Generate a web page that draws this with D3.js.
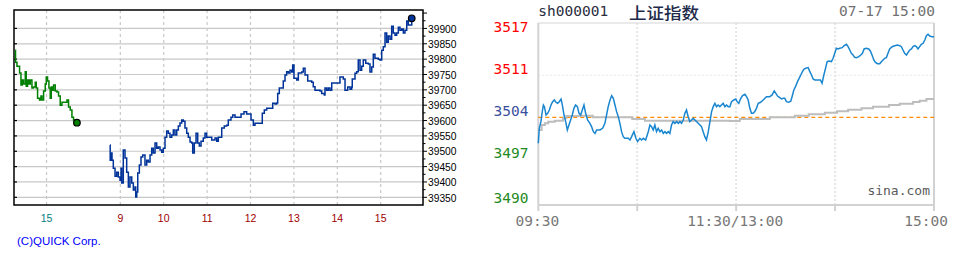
<!DOCTYPE html>
<html><head><meta charset="utf-8">
<script src="https://cdn.jsdelivr.net/npm/d3@7"></script>
<style>body{margin:0;background:#fff}svg{display:block}</style>
</head><body>
<svg id="c" width="955" height="260"></svg>
<script>
// ---------- Left chart (QUICK, Nikkei 225 intraday) ----------
// times in minutes of day; previous session shifted onto the shared axis by PREV_OFFSET
const PREV_OFFSET = 462;
const prevMinutes = [856.7,857.1,859.1,861.3,862.7,864.6,866.4,868.2,870.6,871.9,873.7,875.7,877.5,879.8,882.0,884.4,885.8,887.6,890.3,892.3,893.6,895.9,898.2,899.6,901.4,903.3,905.1,906.5,908.3,909.7,912.0,914.4,916.6,918.9,921.3,925.9,928.2,930.4,932.8,935.1,937.3,942.0];
const prevValues = [39829,39790,39777,39777,39755,39716,39732,39719,39759,39712,39732,39719,39732,39706,39709,39725,39706,39673,39667,39680,39667,39696,39719,39742,39729,39706,39673,39709,39699,39716,39696,39693,39680,39650,39660,39660,39667,39644,39634,39611,39602,39593];
const todayMinutes = [525.8,526.0,528.1,528.5,530.3,532.7,535.0,537.2,539.6,541.0,541.9,544.1,546.5,548.8,551.1,553.4,555.8,558.0,560.3,561.3,562.7,564.1,566.3,568.6,571.0,574.1,576.5,578.7,581.1,583.4,585.6,588.0,590.3,592.5,594.9,597.2,599.4,601.8,604.1,606.4,608.7,611.1,613.3,615.6,618.0,620.2,622.5,624.9,627.1,629.4,631.8,634.0,636.4,638.7,640.1,642.3,644.7,647.0,649.2,651.6,654.7,657.1,659.4,664.0,666.4,670.9,673.3,675.5,680.2,683.8,687.1,689.3,693.0,695.4,698.6,704.1,706.9,711.0,714.7,719.3,720.7,723.9,726.2,734.5,736.3,739.1,742.4,749.3,750.7,753.9,756.2,757.6,759.8,762.2,765.3,767.7,770.0,772.3,774.6,777.0,778.3,780.1,783.9,786.1,790.8,793.0,795.4,799.1,804.6,806.8,809.2,816.1,818.4,822.0,823.0,825.3,827.6,829.9,832.3,841.4,843.7,848.3,850.7,854.4,857.6,859.9,860.7,864.5,866.8,869.0,871.4,873.7,875.9,879.3,882.9,885.2,887.6,889.8,892.1,896.7,899.0,901.4,903.6,906.0,908.3,910.5,912.9,915.2,917.4,919.8,922.1,924.4,926.7,929.1,931.3,933.6,936.0,938.2,941.9,942.9];
const todayValues = [39520,39471,39494,39471,39445,39419,39432,39416,39406,39445,39397,39504,39478,39432,39384,39416,39397,39374,39384,39351,39367,39429,39455,39481,39488,39455,39471,39465,39488,39510,39494,39527,39510,39514,39504,39497,39510,39546,39566,39559,39546,39553,39569,39553,39569,39582,39592,39602,39598,39576,39559,39546,39530,39527,39494,39527,39559,39527,39517,39533,39543,39559,39546,39546,39537,39543,39533,39546,39576,39582,39585,39602,39611,39618,39611,39611,39621,39629,39621,39621,39602,39585,39591,39591,39624,39634,39640,39640,39656,39654,39657,39688,39706,39706,39729,39748,39759,39755,39764,39758,39781,39738,39732,39755,39758,39770,39748,39729,39725,39710,39699,39696,39688,39683,39706,39699,39706,39699,39722,39722,39742,39735,39699,39709,39702,39709,39735,39754,39759,39797,39764,39777,39797,39787,39784,39758,39774,39816,39803,39800,39797,39829,39840,39885,39855,39875,39865,39907,39885,39878,39885,39904,39894,39898,39885,39894,39924,39911,39911,39933];
const quickYTicks = [39350,39400,39450,39500,39550,39600,39650,39700,39750,39800,39850,39900];
const quickPrevXTicks = [{label:"15", min:900}];
const quickTodayXTicks = [{label:"9",min:540},{label:"10",min:600},{label:"11",min:660},{label:"12",min:720},{label:"13",min:780},{label:"14",min:840},{label:"15",min:900}];
const quickCredit = "(C)QUICK Corp.";

// ---------- Right chart (sina, 上证指数) ----------
const sinaCode = "sh000001";
const sinaName = "上证指数";
const sinaStamp = "07-17 15:00";
const sinaPrevClose = 3503.78;
const sinaTickValues = [3517.28,3510.53,3503.78,3497.03,3490.28];
const sinaTickLabels = ["3517","3511","3504","3497","3490"];
const sinaTimeLabels = [{label:"09:30",min:0},{label:"11:30/13:00",min:120},{label:"15:00",min:240}];
const sinaPriceMin = [0,0.6,1.6,2.4,3.1,3.7,4.7,5.7,6.7,7.7,8.7,9.7,10.7,11.7,12.7,13.8,14.6,15.6,16.6,17.6,18.6,19.6,20.6,21.6,22.6,23.7,24.7,25.7,26.7,27.7,28.7,29.9,31.3,32.3,33.4,34.4,35.4,37.4,39.0,40.4,41.4,42.4,43.5,44.5,45.5,46.5,47.5,48.5,49.5,50.5,51.5,52.5,54.6,55.6,56.6,58.0,59.2,60.2,61.6,62.6,63.7,65.1,66.7,67.7,68.7,69.7,70.7,71.7,72.7,73.8,74.8,75.8,76.8,77.8,78.8,79.8,80.8,81.8,82.8,83.9,84.9,85.9,86.9,87.9,88.9,89.9,90.9,91.9,92.9,94.0,95.0,97.0,99.0,100.0,101.0,102.0,103.1,104.1,105.1,106.1,107.1,108.1,109.1,110.1,111.1,112.1,113.2,114.2,115.2,116.2,117.2,118.6,119.8,120.6,121.6,122.6,123.9,125.3,126.3,127.3,128.3,129.3,130.3,131.3,132.3,133.4,134.8,136.4,138.4,140.4,141.8,143.1,144.1,145.1,146.5,147.5,148.5,149.5,150.5,151.9,153.2,154.2,155.0,156.0,157.2,158.2,159.2,160.2,161.2,162.2,163.7,164.7,165.7,166.7,167.7,169.7,171.1,172.1,173.2,174.2,175.2,176.4,177.8,178.8,179.8,180.8,181.8,182.8,184.3,185.5,186.9,187.9,188.9,189.9,190.9,191.9,192.9,194.4,195.6,196.6,197.6,199.0,200.4,201.4,202.4,203.5,204.5,205.7,207.1,208.1,209.1,210.1,211.1,212.1,213.1,214.6,216.2,217.8,219.2,220.2,221.2,222.2,223.3,224.3,225.3,226.3,227.3,228.3,229.3,230.3,231.3,232.3,233.4,234.4,235.4,236.4,237.4,238.8,240];
const sinaPriceVal = [3499.60,3502.01,3503.08,3504.69,3505.75,3505.49,3504.15,3504.42,3504.95,3505.75,3506.29,3506.56,3506.19,3506.02,3506.29,3506.72,3505.75,3504.15,3503.08,3501.74,3502.54,3503.35,3504.15,3505.22,3505.75,3505.49,3504.42,3504.15,3504.95,3505.75,3504.42,3503.35,3502.81,3502.28,3501.47,3501.20,3501.74,3501.74,3502.01,3502.81,3504.15,3505.49,3506.56,3507.26,3506.83,3505.75,3504.69,3503.88,3502.81,3501.47,3500.67,3500.40,3500.40,3500.13,3500.67,3501.47,3500.40,3499.87,3500.40,3500.13,3500.40,3500.13,3501.47,3502.54,3502.28,3501.74,3502.54,3501.47,3502.01,3501.47,3501.74,3501.20,3501.47,3501.20,3501.47,3501.20,3502.54,3503.08,3502.81,3503.08,3502.81,3503.08,3502.81,3503.35,3504.42,3504.95,3503.88,3503.08,3503.35,3503.61,3503.35,3502.81,3502.28,3501.47,3500.67,3500.13,3501.47,3503.08,3504.69,3505.49,3506.02,3505.49,3505.75,3505.49,3505.75,3506.02,3505.49,3505.75,3505.49,3505.49,3506.29,3506.56,3506.72,3506.29,3506.02,3506.72,3507.26,3507.47,3507.10,3506.56,3505.22,3504.42,3504.42,3504.69,3505.22,3506.02,3506.19,3506.56,3507.10,3507.10,3507.37,3508.01,3507.63,3507.20,3506.94,3506.72,3506.83,3506.83,3506.29,3506.19,3506.40,3507.37,3508.17,3508.70,3509.51,3510.04,3510.58,3511.11,3511.54,3511.65,3511.76,3511.11,3510.58,3509.94,3509.78,3509.78,3509.78,3509.24,3510.58,3511.65,3512.72,3512.83,3512.72,3513.26,3514.06,3514.87,3514.76,3514.87,3514.97,3515.29,3515.51,3515.13,3514.60,3514.06,3513.79,3513.42,3513.37,3513.52,3513.79,3514.06,3514.76,3514.87,3514.76,3514.44,3513.79,3512.99,3512.61,3512.40,3512.40,3512.72,3512.99,3513.26,3513.37,3514.06,3514.76,3515.13,3515.29,3515.40,3515.29,3515.13,3514.60,3514.06,3513.79,3514.22,3514.60,3514.76,3515.13,3515.29,3515.13,3514.76,3515.13,3515.51,3515.67,3516.21,3516.90,3517.12,3516.85,3516.74,3516.74];
const sinaAvgMin = [0,2,4,6,10,15,17,26,33,57,64.7,116,122.2,140.4,155.6,164.1,173.8,181.2,187.9,196,203,212.7,219.2,227.3,231.3,235.4,240];
const sinaAvgVal = [3501.74,3502.54,3502.81,3503.08,3503.24,3503.61,3503.99,3504.04,3503.78,3503.51,3503.24,3503.19,3503.51,3503.78,3504.04,3504.26,3504.52,3504.74,3505.01,3505.22,3505.49,3505.75,3505.97,3506.24,3506.45,3506.72,3506.72];

const svg = d3.select("#c");
svg.append("rect").attr("width",955).attr("height",260).attr("fill","#fff");

// ===== Left chart =====
const LB = {l:14, r:423, t:10, b:205};
const xL = d3.scaleLinear().domain([393, 958.5]).range([LB.l, LB.r]);
const yL = d3.scaleLinear().domain([39325, 39960]).range([LB.b, LB.t]);
const gL = svg.append("g");

gL.selectAll("line.hg").data(quickYTicks).join("line")
  .attr("x1",LB.l).attr("x2",LB.r).attr("y1",d=>yL(d)).attr("y2",d=>yL(d))
  .attr("stroke","#c8c8c8").attr("stroke-width",1.2);

const xTicksAll = quickPrevXTicks.map(d=>({label:d.label, x:xL(d.min-PREV_OFFSET), prev:true}))
  .concat(quickTodayXTicks.map(d=>({label:d.label, x:xL(d.min), prev:false})));
gL.selectAll("line.vg").data(xTicksAll).join("line")
  .attr("x1",d=>d.x).attr("x2",d=>d.x).attr("y1",LB.t).attr("y2",LB.b)
  .attr("stroke","#c8c8c8").attr("stroke-width",1.2).attr("stroke-dasharray","3,3");

// ticks on frame
gL.selectAll("line.lt").data(quickYTicks).join("line")
  .attr("x1",LB.l).attr("x2",LB.l+3).attr("y1",d=>yL(d)).attr("y2",d=>yL(d))
  .attr("stroke","#000").attr("stroke-width",1.2);
const rightTicks = d3.range(39350, 39951, 25);
gL.selectAll("line.rt").data(rightTicks).join("line")
  .attr("x1",LB.r).attr("x2",d=> LB.r + (d%50===0?4:2.5)).attr("y1",d=>yL(d)).attr("y2",d=>yL(d))
  .attr("stroke","#000").attr("stroke-width",1);

gL.append("rect").attr("x",LB.l).attr("y",LB.t).attr("width",LB.r-LB.l).attr("height",LB.b-LB.t)
  .attr("fill","none").attr("stroke","#000").attr("stroke-width",1.5);

const prevData = prevMinutes.map((m,i)=>({t:m-PREV_OFFSET, v:prevValues[i]}));
const todayData = todayMinutes.map((m,i)=>({t:m, v:todayValues[i]}));
const lineL = d3.line().x(d=>xL(d.t)).y(d=>yL(d.v)).curve(d3.curveStepAfter);
gL.append("path").attr("d",lineL(prevData)).attr("fill","none").attr("stroke","#008000").attr("stroke-width",1.5);
gL.append("path").attr("d",lineL(todayData)).attr("fill","none").attr("stroke","#003399").attr("stroke-width",1.5);
const pl = prevData[prevData.length-1], tl = todayData[todayData.length-1];
gL.append("circle").attr("cx",xL(pl.t)).attr("cy",yL(pl.v)).attr("r",3.3).attr("fill","#008000").attr("stroke","#000").attr("stroke-width",1.2);
gL.append("circle").attr("cx",xL(tl.t)).attr("cy",yL(tl.v)).attr("r",3.3).attr("fill","#003399").attr("stroke","#000").attr("stroke-width",1.2);

gL.selectAll("text.yl").data(quickYTicks).join("text")
  .attr("x",LB.r+5).attr("y",d=>yL(d)+4.2)
  .attr("font-family","Liberation Sans, Arial, sans-serif").attr("font-size",11.5)
  .attr("textLength",28.5).attr("lengthAdjust","spacingAndGlyphs")
  .attr("fill","#000").text(d=>d);
gL.selectAll("text.xl").data(xTicksAll).join("text")
  .attr("x",d=>d.x).attr("y",221.8).attr("text-anchor","middle")
  .attr("font-family","Liberation Sans, Arial, sans-serif").attr("font-size",10.5)
  .attr("fill",d=>d.prev?"#008080":"#a00000").text(d=>d.label);
gL.append("text").attr("x",17).attr("y",245)
  .attr("font-family","Liberation Sans, Arial, sans-serif").attr("font-size",11.5)
  .attr("fill","#0000ff").text(quickCredit);

// ===== Right chart =====
const RB = {l:538.3, r:934, t:23, b:205};
const xR = d3.scaleLinear().domain([0,240]).range([RB.l, RB.r]);
const yR = d3.scaleLinear().domain([3490.28, 3517.28]).range([201.3, 33.3]);
const gR = svg.append("g");
const mono = "DejaVu Sans Mono, Liberation Mono, monospace";

// gridlines
gR.selectAll("line.vg").data([60,120,180]).join("line")
  .attr("x1",d=>xR(d)).attr("x2",d=>xR(d)).attr("y1",RB.t).attr("y2",RB.b)
  .attr("stroke","#e6e6e6").attr("stroke-width",2).attr("stroke-dasharray","2,2");
gR.selectAll("line.hg").data([sinaTickValues[1]]).join("line")
  .attr("x1",RB.l).attr("x2",RB.r).attr("y1",d=>yR(d)).attr("y2",d=>yR(d))
  .attr("stroke","#e6e6e6").attr("stroke-width",1).attr("stroke-dasharray","2,2");

// frame
gR.append("line").attr("x1",RB.l).attr("x2",RB.r).attr("y1",RB.t).attr("y2",RB.t).attr("stroke","#d6d6d6").attr("stroke-width",1.2);
gR.append("line").attr("x1",RB.l).attr("x2",RB.r).attr("y1",RB.b).attr("y2",RB.b).attr("stroke","#d2d2d2").attr("stroke-width",2);
gR.append("line").attr("x1",RB.l).attr("x2",RB.l).attr("y1",RB.t).attr("y2",RB.b+6).attr("stroke","#d2d2d2").attr("stroke-width",2);
gR.append("line").attr("x1",RB.r).attr("x2",RB.r).attr("y1",RB.t).attr("y2",RB.b+6).attr("stroke","#d2d2d2").attr("stroke-width",2);
gR.selectAll("line.bt").data([60,120,180]).join("line")
  .attr("x1",d=>xR(d)).attr("x2",d=>xR(d)).attr("y1",RB.b).attr("y2",RB.b+6)
  .attr("stroke","#d2d2d2").attr("stroke-width",2);

// prev close
gR.append("line").attr("x1",RB.l).attr("x2",RB.r).attr("y1",yR(sinaPrevClose)).attr("y2",yR(sinaPrevClose))
  .attr("stroke","#ff8c00").attr("stroke-width",1.2).attr("stroke-dasharray","4,3");

// avg line
const avgData = sinaAvgMin.map((m,i)=>({m, v:sinaAvgVal[i]}));
gR.append("path").attr("d", d3.line().x(d=>xR(d.m)).y(d=>yR(d.v)).curve(d3.curveStepAfter)(avgData))
  .attr("fill","none").attr("stroke","#bdbdbd").attr("stroke-width",2);
// price line
const priceData = sinaPriceMin.map((m,i)=>({m, v:sinaPriceVal[i]}));
gR.append("path").attr("d", d3.line().x(d=>xR(d.m)).y(d=>yR(d.v))(priceData))
  .attr("fill","none").attr("stroke","#1a86d0").attr("stroke-width",1.5);

// texts
const tickColors = ["#ff0000","#ff0000","#3a4f9e","#1f8a1f","#1f8a1f"];
gR.selectAll("text.yl").data(sinaTickValues).join("text")
  .attr("x",528.5).attr("y",(d,i)=> i===sinaTickValues.length-1 ? yR(d)+2 : yR(d)-1)
  .attr("text-anchor","end").attr("font-family",mono).attr("font-size",14.5)
  .attr("fill",(d,i)=>tickColors[i]).text((d,i)=>sinaTickLabels[i]);
gR.selectAll("text.tl").data(sinaTimeLabels).join("text")
  .attr("x",(d,i)=> i===sinaTimeLabels.length-1 ? RB.r+14 : xR(d.min)-1)
  .attr("y",225.7)
  .attr("text-anchor",(d,i)=> i===sinaTimeLabels.length-1 ? "end" : "middle")
  .attr("font-family",mono).attr("font-size",14.5).attr("fill","#777").text(d=>d.label);
gR.append("text").attr("x",RB.l).attr("y",16).attr("font-family",mono).attr("font-size",14.5).attr("fill","#2a2d3e").text(sinaCode);
gR.append("text").attr("x",629).attr("y",18.6).attr("font-family","Noto Sans CJK SC, sans-serif").attr("font-size",16).attr("font-weight",500)
  .attr("textLength",70).attr("lengthAdjust","spacingAndGlyphs").attr("fill","#1e2a4a").text(sinaName);
gR.append("text").attr("x",RB.r+1).attr("y",16).attr("text-anchor","end").attr("font-family",mono).attr("font-size",14.5).attr("fill","#707070").text(sinaStamp);
gR.append("text").attr("x",RB.r-4).attr("y",195).attr("text-anchor","end").attr("font-family",mono).attr("font-size",13).attr("fill","#5a5a5a").text("sina.com");
</script></body></html>
